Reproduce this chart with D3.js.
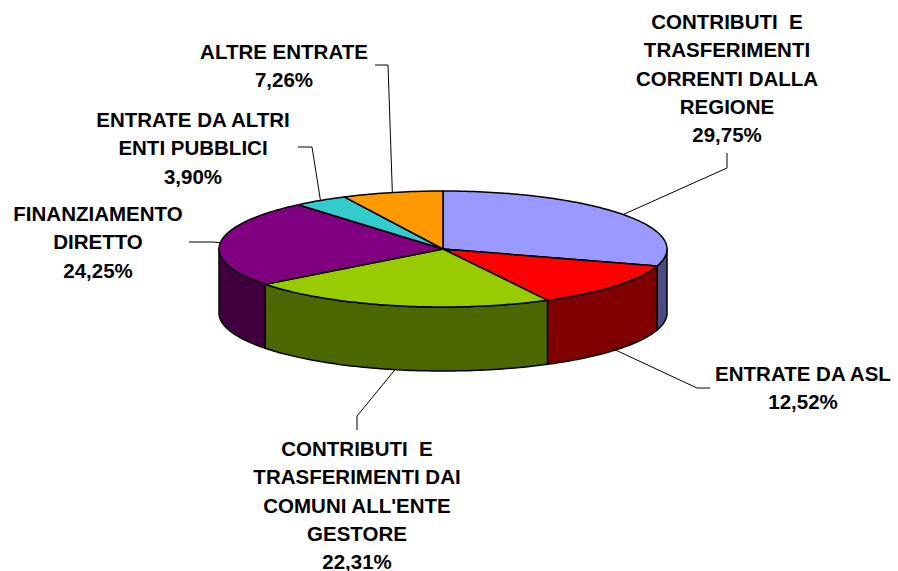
<!DOCTYPE html>
<html>
<head>
<meta charset="utf-8">
<script src="https://cdn.jsdelivr.net/npm/d3@7"></script>
<style>
  body { margin: 0; background: #fff; }
  text { font-family: "Liberation Sans", Arial, sans-serif; font-weight: bold; font-size: 20.5px; white-space: pre; }
</style>
</head>
<body>
<svg id="chart" width="898" height="571"></svg>
<script>
// data
var categories = [
  ["CONTRIBUTI  E", "TRASFERIMENTI", "CORRENTI DALLA", "REGIONE"],
  ["ENTRATE DA ASL"],
  ["CONTRIBUTI  E", "TRASFERIMENTI DAI", "COMUNI ALL'ENTE", "GESTORE"],
  ["FINANZIAMENTO", "DIRETTO"],
  ["ENTRATE DA ALTRI", "ENTI PUBBLICI"],
  ["ALTRE ENTRATE"]
];
var values = [29.75, 12.52, 22.31, 24.25, 3.90, 7.26];
var percentLabels = ["29,75%", "12,52%", "22,31%", "24,25%", "3,90%", "7,26%"];
var topColors  = ["#9999FF", "#FF0000", "#99CC00", "#800080", "#33CCCC", "#FF9900"];
var sideColors = ["#4C4C80", "#800000", "#4C6600", "#400040", "#1A6666", "#804C00"];

// layout of the labels (text centre, first baseline, leader elbow and end)
var labelLayout = [
  {x: 727, y: 29,  elbow: [727, 168], end: [727, 153]},
  {x: 803, y: 381, elbow: [697, 388], end: [710, 388]},
  {x: 357, y: 456, elbow: [357, 416], end: [357, 430]},
  {x: 98,  y: 221, elbow: [213, 242], end: [189, 242]},
  {x: 193, y: 127, elbow: [312, 147], end: [298, 147]},
  {x: 284, y: 59,  elbow: [388, 65],  end: [375, 65]}
];

var cx = 443, cy = 249, rx = 224, ry = 58, depth = 64, lineH = 28.3;

var svg = d3.select("#chart");

var pie = d3.pie().sort(null).value(d => d);
var arcs = pie(values);

function px(a) { return cx + rx * Math.sin(a); }
function py(a) { return cy - ry * Math.cos(a); }

function arcPoints(a0, a1, dy) {
  var n = Math.max(2, Math.ceil((a1 - a0) / 0.02));
  return d3.range(n + 1).map(i => {
    var a = a0 + (a1 - a0) * i / n;
    return [px(a), py(a) + dy];
  });
}

var line = d3.line();

// side walls (only the front half, angles between PI/2 and 3PI/2)
var gSide = svg.append("g");
arcs.forEach((d, i) => {
  var a0 = Math.max(d.startAngle, Math.PI / 2);
  var a1 = Math.min(d.endAngle, Math.PI * 1.5);
  if (a1 <= a0) return;
  var pts = arcPoints(a0, a1, 0).concat(arcPoints(a0, a1, depth).reverse());
  gSide.append("path")
    .attr("d", line(pts) + "Z")
    .attr("fill", sideColors[i])
    .attr("stroke", "#000")
    .attr("stroke-width", 1.5)
    .attr("stroke-linejoin", "round");
});

// top faces
var gTop = svg.append("g");
arcs.forEach((d, i) => {
  var pts = [[cx, cy]].concat(arcPoints(d.startAngle, d.endAngle, 0));
  gTop.append("path")
    .attr("d", line(pts) + "Z")
    .attr("fill", topColors[i])
    .attr("stroke", "#000")
    .attr("stroke-width", 1.5)
    .attr("stroke-linejoin", "round");
});

// leader lines and labels
var gLab = svg.append("g");
arcs.forEach((d, i) => {
  var mid = (d.startAngle + d.endAngle) / 2;
  var front = Math.cos(mid) < 0;
  var anchor = [px(mid), py(mid) + (front ? depth : 0)];
  var L = labelLayout[i];
  gLab.append("path")
    .attr("d", line([anchor, L.elbow, L.end]))
    .attr("fill", "none")
    .attr("stroke", "#000")
    .attr("stroke-width", 1);

  var lines = categories[i].concat([percentLabels[i]]);
  var t = gLab.append("text").attr("text-anchor", "middle");
  lines.forEach((s, k) => {
    t.append("tspan").attr("x", L.x).attr("y", L.y + k * lineH).text(s);
  });
});
</script>
</body>
</html>
